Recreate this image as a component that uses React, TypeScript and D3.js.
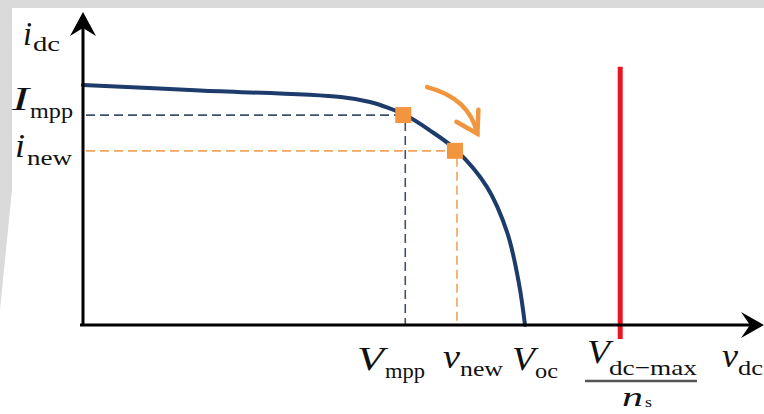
import React from "react";
import * as d3 from "d3";

const W = 764;
const H = 414;

// I-V curve (v, i) in arbitrary units
const curveV = [0, 17.2, 37.9, 42.2, 44.9, 47.4, 51, 54.9, 59.4, 62.4, 64.1, 65];
const curveI = [7.72, 7.54, 7.33, 7.17, 6.98, 6.75, 6.26, 5.62, 4.44, 2.96, 1.35, 0];

// operating points
const pointNames = ["mpp", "new"];
const pointV = [47.1, 54.7];
const pointI = [6.75, 5.6];

// limit line
const vLimit = 79;
const limitRange = [-0.45, 8.3];

// orange move arrow (data units)
const arrowV = [50.6, 56.8, 58.0];
const arrowI = [7.65, 7.3, 6.15];

const xScale = d3.scaleLinear().domain([0, 100]).range([83, 763]);
const yScale = d3.scaleLinear().domain([0, 10]).range([325, 14]);

const NAVY = "#1d3b6b";
const ORANGE = "#f3953f";
const DASH_BLUE = "#3f4f6c";
const DASH_ORANGE = "#f0a45e";
const RED = "#ea1520";
const FONT = "Liberation Serif";

type Lbl = {
  main: string;
  mx: number;
  mw: number;
  my: number;
  sub: string;
  sx: number;
  sw: number;
  sy: number;
  ms?: number;
  ss?: number;
};

const labels: Lbl[] = [
  { main: "i", mx: 23, mw: 9, my: 45, sub: "dc", sx: 33, sw: 27, sy: 51 },
  { main: "I", mx: 12, mw: 17, my: 110, sub: "mpp", sx: 30, sw: 43, sy: 118 },
  { main: "i", mx: 15, mw: 10, my: 157, sub: "new", sx: 27, sw: 45, sy: 165 },
  { main: "V", mx: 357, mw: 27, my: 370, sub: "mpp", sx: 385, sw: 40, sy: 378 },
  { main: "v", mx: 443, mw: 17, my: 368, sub: "new", sx: 460, sw: 43, sy: 376 },
  { main: "V", mx: 512, mw: 23, my: 370, sub: "oc", sx: 535, sw: 23, sy: 378 },
  { main: "V", mx: 587, mw: 23, my: 363, sub: "dc\u2212max", sx: 609, sw: 88, sy: 375 },
  { main: "n", mx: 622, mw: 21, my: 406, sub: "s", sx: 645, sw: 7, sy: 407, ms: 28, ss: 15 },
  { main: "v", mx: 722, mw: 16, my: 367, sub: "dc", sx: 738, sw: 25, sy: 375 },
];

export default function App() {
  const line = d3
    .line<number>()
    .x((_, k) => xScale(curveV[k]))
    .y((_, k) => yScale(curveI[k]))
    .curve(d3.curveCatmullRom.alpha(0.5));
  const curvePath = line(curveV) || "";

  const x0 = xScale(0);
  const y0 = yScale(0);

  const a0 = [xScale(arrowV[0]), yScale(arrowI[0])];
  const a1 = [xScale(arrowV[1]), yScale(arrowI[1])];
  const a2 = [xScale(arrowV[2]), yScale(arrowI[2])];
  const arrowPath = `M${a0[0]},${a0[1]} Q${a1[0]},${a1[1]} ${a2[0]},${a2[1]}`;
  const tip = a2;

  return (
    <div style={{ position: "fixed", left: 0, top: 0 }}>
      <svg width={W} height={H} style={{ display: "block", background: "#fff" }}>
        {/* faint watermark frame */}
        <polygon points="0,0 764,0 764,8 12,8 12,190 0,310" fill="#dadada" />

        {/* dashed guides */}
        {pointNames.map((n, k) => {
          const px = xScale(pointV[k]);
          const py = yScale(pointI[k]);
          const c = k === 0 ? DASH_BLUE : DASH_ORANGE;
          return (
            <g key={n} stroke={c} strokeWidth={1.6} strokeDasharray="9 5" fill="none">
              <line x1={x0 + 3} y1={py} x2={px - 6} y2={py} />
              <line x1={px + 2} y1={py + 7} x2={px + 2} y2={y0} />
            </g>
          );
        })}

        {/* red limit */}
        <line
          x1={xScale(vLimit)}
          x2={xScale(vLimit)}
          y1={yScale(limitRange[1])}
          y2={yScale(limitRange[0])}
          stroke={RED}
          strokeWidth={5}
        />

        {/* I-V curve */}
        <path d={curvePath} fill="none" stroke={NAVY} strokeWidth={4} strokeLinecap="round" />

        {/* axes */}
        <line x1={x0} y1={y0} x2={x0} y2={22} stroke="#000" strokeWidth={3} />
        <path d={`M${x0},12 L${x0 + 13},36 L${x0},28 L${x0 - 13},36 Z`} fill="#000" />
        <line x1={x0 - 3} y1={y0} x2={756} y2={y0} stroke="#000" strokeWidth={3} />
        <path d={`M764,${y0} L741,${y0 - 13} L750,${y0} L741,${y0 + 13} Z`} fill="#000" />

        {/* markers */}
        {pointNames.map((n, k) => (
          <rect
            key={n}
            x={xScale(pointV[k]) - 8}
            y={yScale(pointI[k]) - 8}
            width={16}
            height={16}
            fill={ORANGE}
          />
        ))}

        {/* move arrow */}
        <path d={arrowPath} fill="none" stroke={ORANGE} strokeWidth={4.5} strokeLinecap="round" />
        <polyline
          points={`${tip[0] - 21},${tip[1] - 12} ${tip[0]},${tip[1]} ${tip[0] + 1},${tip[1] - 24}`}
          fill="none"
          stroke={ORANGE}
          strokeWidth={4.5}
          strokeLinejoin="miter"
          strokeLinecap="round"
        />

        {/* labels */}
        <g fontFamily={FONT} fill="#111">
          {labels.map((l, k) => (
            <g key={k}>
              <text
                x={l.mx}
                y={l.my}
                fontSize={l.ms ?? 33}
                fontStyle="italic"
                textLength={l.mw}
                lengthAdjust="spacingAndGlyphs"
              >
                {l.main}
              </text>
              <text
                x={l.sx}
                y={l.sy}
                fontSize={l.ss ?? 22}
                textLength={l.sw}
                lengthAdjust="spacingAndGlyphs"
              >
                {l.sub}
              </text>
            </g>
          ))}
        </g>
        {/* fraction bar */}
        <line x1={585} x2={697} y1={381} y2={381} stroke="#555" strokeWidth={2.5} />
      </svg>
    </div>
  );
}
